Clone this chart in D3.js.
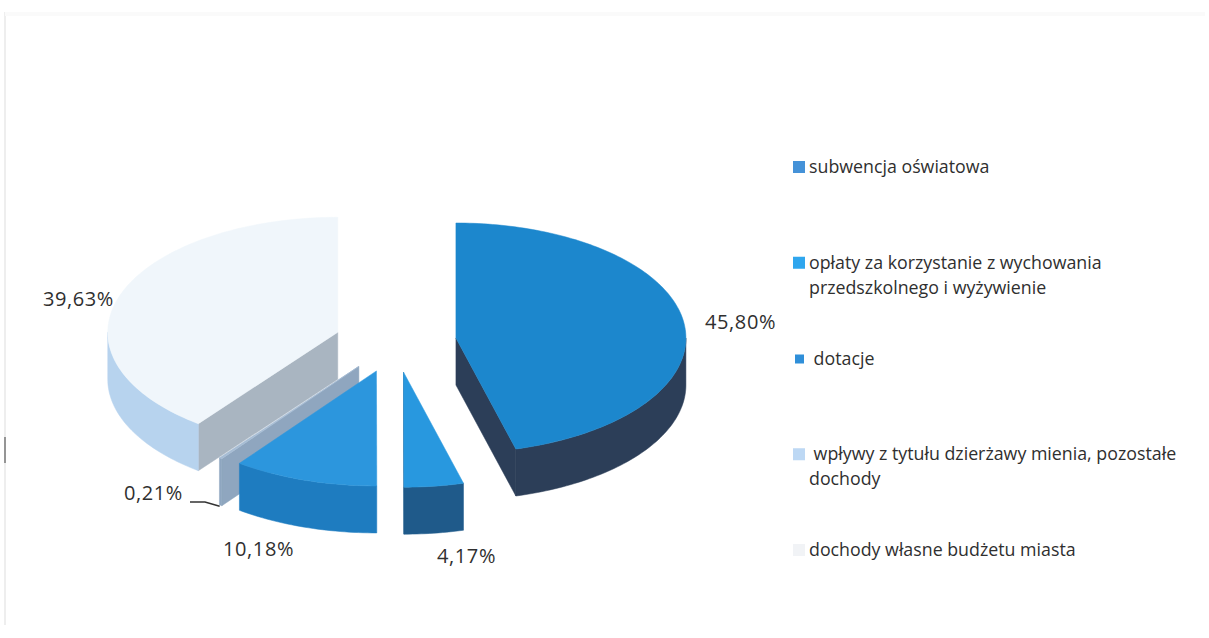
<!DOCTYPE html>
<html>
<head>
<meta charset="utf-8">
<script src="https://cdn.jsdelivr.net/npm/d3@7"></script>
<style>
  body { margin: 0; background: #fff; }
  text { font-family: "Open Sans", sans-serif; fill: #2f2f2f; white-space: pre; }
</style>
</head>
<body>
<svg width="1209" height="638"></svg>
<script>
// Data
var categories = ["subwencja oświatowa",
  "opłaty za korzystanie z wychowania przedszkolnego i wyżywienie",
  "dotacje",
  "wpływy z tytułu dzierżawy mienia, pozostałe dochody",
  "dochody własne budżetu miasta"];
var legendLines = [["subwencja oświatowa"],
  ["opłaty za korzystanie z wychowania", "przedszkolnego i wyżywienie"],
  [" dotacje"],
  [" wpływy z tytułu dzierżawy mienia, pozostałe", "dochody"],
  ["dochody własne budżetu miasta"]];
var values = [45.80, 4.17, 10.18, 0.21, 39.63];

// Colours (top, outer side, cut face, legend swatch)
var topColors  = ["#1c87cd", "#2898df", "#2c96dd", "#a7bdd4", "#f0f6fb"];
var sideColors = ["#2c3e58", "#1f5a8a", "#1e7cc0", "#8ea6c0", "#b7d3ee"];
var cutColors  = ["#2c3e58", "#1f5a8a", "#1e6fae", "#8fa6bf", "#a9b5c1"];
var swatchColors = ["#4592d8", "#2fa6ee", "#2f8fd9", "#bdd8f4", "#f1f3f6"];

var svg = d3.select("svg"),
  width = +svg.attr("width"),
  height = +svg.attr("height");

// faint chart frame
svg.append("line").attr("x1", 5).attr("x2", 5).attr("y1", 12).attr("y2", 625)
  .style("stroke", "#e8e8e8").style("stroke-width", 1.5);
svg.append("line").attr("x1", 5).attr("x2", 1205).attr("y1", 14).attr("y2", 14)
  .style("stroke", "#fafafa").style("stroke-width", 4);
svg.append("line").attr("x1", 5).attr("x2", 5).attr("y1", 437).attr("y2", 463)
  .style("stroke", "#777").style("stroke-width", 1.5);

// 3d pie geometry
var cx = 395.5, cy = 342, rx = 230, ry = 115, depth = 47, explode = 0.265;

var pie = d3.pie().sort(null).value(function(d) { return d; });
var arcs = pie(values);

function pt(a, r, o, z) {
  return [cx + o[0] + r * rx * Math.sin(a), cy + o[1] - r * ry * Math.cos(a) + z];
}
function arcPts(a0, a1, o, z) {
  var n = Math.max(2, Math.ceil(Math.abs(a1 - a0) / 0.02));
  return d3.range(n + 1).map(function(i) { return pt(a0 + (a1 - a0) * i / n, 1, o, z); });
}
var line = d3.line().curve(d3.curveLinearClosed);

arcs.forEach(function(d, i) {
  d.index = i;
  d.mid = (d.startAngle + d.endAngle) / 2;
  d.off = [explode * rx * Math.sin(d.mid), -explode * ry * Math.cos(d.mid)];
});

// paint back to front
var order = arcs.slice().sort(function(a, b) { return -Math.cos(a.mid) + Math.cos(b.mid); });

var g = svg.append("g");
order.forEach(function(d) {
  var i = d.index, o = d.off, a0 = d.startAngle, a1 = d.endAngle;
  var slice = g.append("g").attr("class", "slice");

  // start cut face
  if (Math.sin(a0) < -1e-6) {
    slice.append("path")
      .attr("d", line([pt(a0, 0, o, 0), pt(a0, 1, o, 0), pt(a0, 1, o, depth), pt(a0, 0, o, depth)]))
      .attr("fill", cutColors[i]).attr("stroke", cutColors[i]).attr("stroke-width", 0.5);
  }
  // end cut face
  if (Math.sin(a1) > 1e-6) {
    slice.append("path")
      .attr("d", line([pt(a1, 0, o, 0), pt(a1, 1, o, 0), pt(a1, 1, o, depth), pt(a1, 0, o, depth)]))
      .attr("fill", cutColors[i]).attr("stroke", cutColors[i]).attr("stroke-width", 0.5);
  }
  // outer side (front half only)
  var b0 = Math.max(a0, Math.PI / 2), b1 = Math.min(a1, 3 * Math.PI / 2);
  if (b1 > b0) {
    slice.append("path")
      .attr("d", line(arcPts(b0, b1, o, 0).concat(arcPts(b1, b0, o, depth))))
      .attr("fill", sideColors[i]).attr("stroke", sideColors[i]).attr("stroke-width", 0.5);
  }
  // top face
  slice.append("path")
    .attr("d", line([pt(0, 0, o, 0)].concat(arcPts(a0, a1, o, 0))))
    .attr("fill", topColors[i]).attr("stroke", topColors[i]).attr("stroke-width", 0.5);
});

// percentage labels
var fmt = function(v) { return d3.format(".2f")(v).replace(".", ",") + "%"; };
var labelPos = [[705, 329, "start"], [437, 563, "start"], [223, 556, "start"], [183, 500, "end"], [114, 306, "end"]];
svg.append("g").selectAll("text")
  .data(arcs)
  .enter()
  .append("text")
    .attr("x", function(d, i) { return labelPos[i][0]; })
    .attr("y", function(d, i) { return labelPos[i][1]; })
    .attr("text-anchor", function(d, i) { return labelPos[i][2]; })
    .style("font-size", "20px")
    .style("letter-spacing", "0.6px")
    .text(function(d) { return fmt(d.data); });

// leader line for the tiny slice
var tiny = arcs[3];
var tip = pt(tiny.mid, 1, tiny.off, depth);
svg.append("path")
  .attr("d", d3.line()([[190, 502], [205, 502], [tip[0] - 1, tip[1] + 1]]))
  .attr("fill", "none").style("stroke", "#333").style("stroke-width", 1.5);

// legend
var ly = d3.scaleLinear().domain([0, categories.length - 1]).range([167, 550]);
var legend = svg.append("g").selectAll("g")
  .data(categories)
  .enter()
  .append("g")
    .attr("transform", function(d, i) { return "translate(793," + ly(i) + ")"; });
legend.append("rect")
  .attr("x", function(d, i) { return i == 2 ? 2 : 0; })
  .attr("y", function(d, i) { return i == 2 ? -4 : -6; })
  .attr("width", function(d, i) { return i == 2 ? 9 : 12; })
  .attr("height", function(d, i) { return i == 2 ? 9 : 12; })
  .attr("fill", function(d, i) { return swatchColors[i]; });
legend.each(function(d, i) {
  var el = d3.select(this);
  legendLines[i].forEach(function(t, k) {
    el.append("text")
      .attr("x", 16)
      .attr("y", 6 + k * 25)
      .style("font-size", "17.8px")
      .text(t);
  });
});
</script>
</body>
</html>
